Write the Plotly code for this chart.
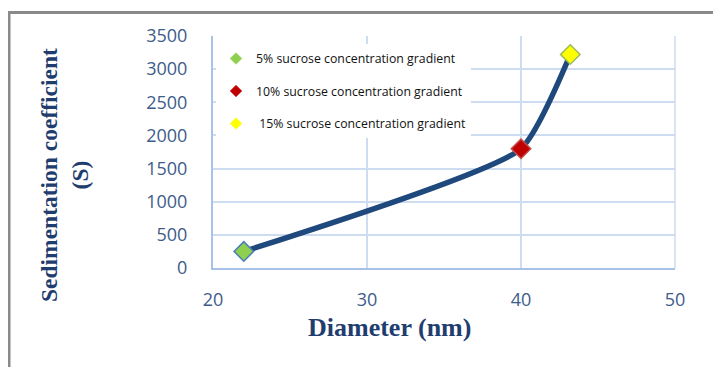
import plotly.graph_objects as go

# Data
diameter_nm = [22, 40, 43.2]
sed_coeff_S = [250, 1800, 3220]
series_names = [
    "5% sucrose concentration gradient",
    "10% sucrose concentration gradient",
    " 15% sucrose concentration gradient",
]
marker_fill = ["#8fcf4f", "#c00000", "#ffff00"]
marker_edge = ["#4a7ebb", "#c0504d", "#9bbb59"]
x_ticks = [20, 30, 40, 50]
y_ticks = [0, 500, 1000, 1500, 2000, 2500, 3000, 3500]

# page body has an 8px margin, so the figure is offset by 8px
OFF = 8
W, H = 721 - OFF, 367 - OFF
L, R, T, B = 213 - OFF, 46, 36 - OFF, 99
pw, ph = W - L - R, H - T - B

def px(xpix):
    return (xpix - OFF - L) / pw

def py(ypix):
    return (H - B - (ypix - OFF)) / ph

fig = go.Figure()

# Smoothed curve
fig.add_trace(go.Scatter(
    x=diameter_nm, y=sed_coeff_S, mode="lines",
    line=dict(color="#1f497d", width=5.5, shape="spline", smoothing=0.5),
    showlegend=False, hoverinfo="skip",
))

# Markers on the curve
for i in range(len(diameter_nm)):
    fig.add_trace(go.Scatter(
        x=[diameter_nm[i]], y=[sed_coeff_S[i]], mode="markers",
        marker=dict(symbol="diamond", size=15, color=marker_fill[i],
                    line=dict(color=marker_edge[i], width=1.5)),
        showlegend=False,
    ))

# Legend entries (small diamonds)
for i in range(len(series_names)):
    fig.add_trace(go.Scatter(
        x=[None], y=[None], mode="markers", name=series_names[i],
        legendgroup=f"g{i}",
        marker=dict(symbol="diamond", size=9, color=marker_fill[i],
                    line=dict(color=marker_fill[i], width=0.5)),
    ))

tick_font = dict(family="Open Sans", size=18, color="#3e5c8a")
title_color = "#1f3d6e"

fig.update_layout(
    width=W, height=H,
    margin=dict(l=L, r=R, t=T, b=B, pad=0),
    paper_bgcolor="white", plot_bgcolor="white",
    showlegend=True,
    legend=dict(
        x=px(216), y=py(44), xanchor="left", yanchor="top",
        bgcolor="white", borderwidth=0,
        font=dict(family="Open Sans", size=12.3, color="#111111"),
        tracegroupgap=13.5, itemwidth=30,
    ),
    xaxis=dict(
        range=[20, 50], tickvals=x_ticks, ticktext=[str(v) for v in x_ticks],
        showgrid=True, gridcolor="#cddcf0", gridwidth=1.5,
        showline=True, linecolor="#a7c2e6", linewidth=2,
        zeroline=False, ticks="", ticklabelstandoff=14,
        tickfont=tick_font, fixedrange=True,
    ),
    yaxis=dict(
        range=[0, 3500], tickvals=y_ticks, ticktext=[str(v) for v in y_ticks],
        showgrid=True, gridcolor="#cddcf0", gridwidth=1.5,
        showline=True, linecolor="#a7c2e6", linewidth=2, mirror=False,
        zeroline=False, ticks="", ticklabelstandoff=20,
        tickfont=tick_font, fixedrange=True,
    ),
    annotations=[
        dict(text="<b>Sedimentation coefficient<br>(S)</b>", textangle=-90,
             x=px(64), y=py(175), xref="paper", yref="paper",
             xanchor="center", yanchor="middle", showarrow=False,
             font=dict(family="Liberation Serif", size=23.5, color=title_color),
             align="center"),
        dict(text="<b>Diameter (nm)</b>",
             x=px(389), y=py(327), xref="paper", yref="paper",
             xanchor="center", yanchor="middle", showarrow=False,
             font=dict(family="Liberation Serif", size=26, color=title_color)),
    ],
    shapes=[
        dict(type="line", xref="paper", yref="paper",
             x0=px(7), x1=px(730), y0=py(12.5), y1=py(12.5),
             line=dict(color="#8a8a8a", width=3)),
        dict(type="line", xref="paper", yref="paper",
             x0=px(9), x1=px(9), y0=py(11), y1=py(380),
             line=dict(color="#8a8a8a", width=3)),
        dict(type="line", xref="paper", yref="paper",
             x0=1, x1=1, y0=0, y1=1,
             line=dict(color="#cddcf0", width=1.5), layer="below"),
    ],
)

fig.write_html("out.html")
